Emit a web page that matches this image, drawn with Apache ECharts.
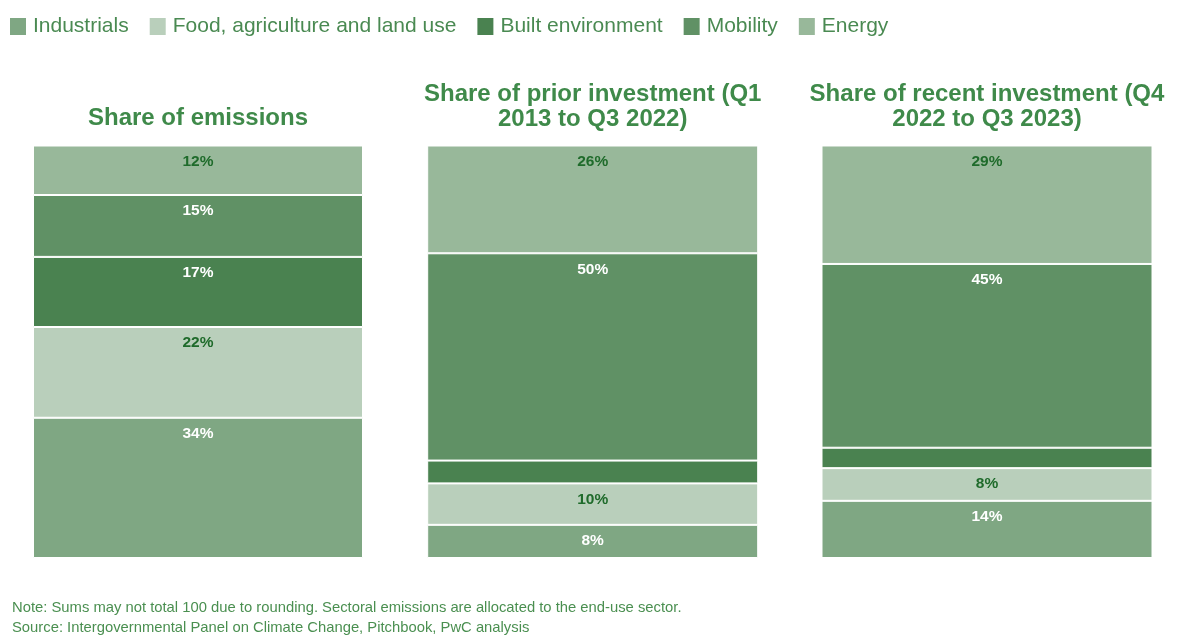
<!DOCTYPE html>
<html>
<head>
<meta charset="utf-8">
<title>Climate tech: emissions vs investment by sector</title>
<script src="https://cdn.jsdelivr.net/npm/echarts@6/dist/echarts.min.js"></script>
<style>
  html, body { margin: 0; padding: 0; background: #ffffff; }
  #chart { width: 1181px; height: 637px; }
</style>
</head>
<body>
<div id="chart"></div>
<script>
// Sectors, bottom of each stack first
const sectors = ['Industrials', 'Food, agriculture and land use', 'Built environment', 'Mobility', 'Energy'];

// Shares (%) per panel, in sector order
const emissionsShare = [34, 22, 17, 15, 12];
const priorInvestmentShare = [8, 10, 5.5, 50, 26];
const recentInvestmentShare = [14, 8, 5, 45, 29];

const panelTitles = [
  'Share of emissions',
  'Share of prior investment (Q1\n2013 to Q3 2022)',
  'Share of recent investment (Q4\n2022 to Q3 2023)'
];

const footNotes = [
  'Note: Sums may not total 100 due to rounding. Sectoral emissions are allocated to the end-use sector.',
  'Source: Intergovernmental Panel on Climate Change, Pitchbook, PwC analysis'
];

const panels = [emissionsShare, priorInvestmentShare, recentInvestmentShare];

const sectorColors = ['#7fa783', '#b9cfbb', '#4a8250', '#609165', '#98b89a'];
const labelColors = ['#ffffff', '#1f6b2b', '#ffffff', '#ffffff', '#1f6b2b'];
const FONT = '"Liberation Sans", Arial, Helvetica, sans-serif';
const GREEN_TEXT = '#3f8a4a';

const gridLeft = [33, 427.2, 821.5];
const gridWidth = [330, 331, 331];
const gridTop = 145.5;
const gridHeight = 412.5;

const sum = arr => arr.reduce((a, b) => a + b, 0);

const grids = gridLeft.map((l, i) => ({ left: l, width: gridWidth[i], top: gridTop, height: gridHeight }));
const xAxes = panels.map((_, i) => ({
  type: 'category', gridIndex: i, data: ['share'], show: false
}));
const yAxes = panels.map((vals, i) => ({
  type: 'value', gridIndex: i, min: 0, max: sum(vals), show: false
}));

const series = [];
panels.forEach((vals, p) => {
  sectors.forEach((name, s) => {
    series.push({
      name: name,
      type: 'bar',
      xAxisIndex: p,
      yAxisIndex: p,
      stack: 'panel' + p,
      barWidth: '100%',
      data: [vals[s]],
      itemStyle: { color: sectorColors[s], borderColor: '#ffffff', borderWidth: 1 },
      label: {
        show: vals[s] >= 7,
        position: 'insideTop',
        distance: 8,
        formatter: '{c}%',
        color: labelColors[s],
        fontFamily: FONT,
        fontWeight: 'bold',
        fontSize: 15.5
      },
      emphasis: { disabled: true }
    });
  });
});

const titles = panelTitles.map((t, i) => ({
  text: t,
  left: gridLeft[i] + gridWidth[i] / 2,
  top: i === 0 ? 106 : 82,
  padding: 0,
  textAlign: 'center',
  textStyle: {
    fontFamily: FONT, fontWeight: 'bold', fontSize: 24, lineHeight: 25, color: GREEN_TEXT
  }
}));

const chart = echarts.init(document.getElementById('chart'), null, { renderer: 'canvas' });
chart.setOption({
  backgroundColor: '#ffffff',
  animation: false,
  title: titles,
  legend: {
    data: sectors,
    left: 10,
    top: 16,
    padding: 0,
    icon: 'rect',
    itemWidth: 16,
    itemHeight: 17,
    itemGap: 21,
    itemStyle: { borderWidth: 0 },
    textStyle: { fontFamily: FONT, fontSize: 21, color: '#4a8a52', padding: [0, 0, 0, 2] },
    selectedMode: false
  },
  grid: grids,
  xAxis: xAxes,
  yAxis: yAxes,
  series: series,
  graphic: footNotes.map((t, i) => ({
    type: 'text',
    left: 12,
    top: 600 + i * 20,
    style: { text: t, fontFamily: FONT, fontSize: 14.8, fill: '#4a8f50' }
  }))
});
</script>
</body>
</html>
